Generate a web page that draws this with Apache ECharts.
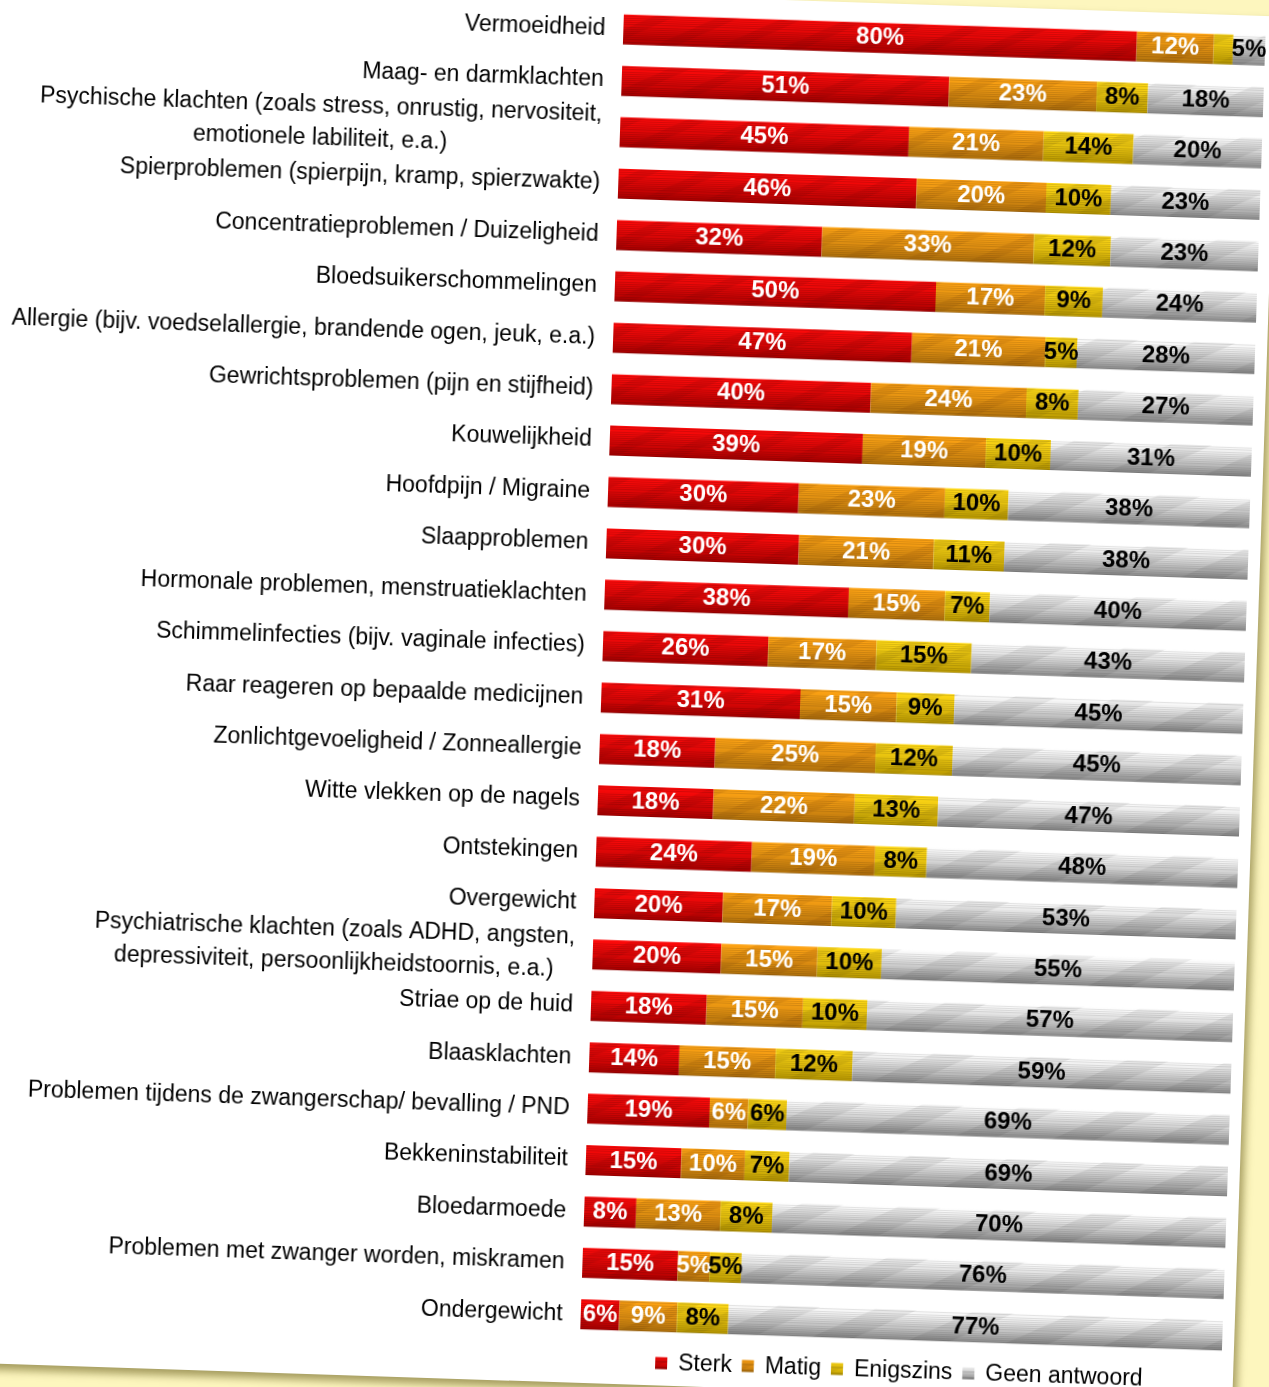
<!DOCTYPE html>
<html>
<head>
<meta charset="utf-8">
<script src="https://cdn.jsdelivr.net/npm/echarts@6/dist/echarts.min.js"></script>
<style>
html, body { margin: 0; padding: 0; width: 1269px; height: 1387px; overflow: hidden; background: #fdf6be; }
#paper {
  position: absolute; left: -50px; top: -26.5px; width: 1328px; height: 1389px;
  background: #ffffff;
  transform-origin: 50px 26.5px; transform: rotate(1.9deg);
  box-shadow: 4px 6px 9px rgba(105, 95, 30, 0.6);
}
#chart { position: absolute; left: 0; top: 0; width: 1328px; height: 1389px; }
</style>
</head>
<body>
<div id="paper"><div id="chart"></div></div>
<script>
const categories = [
  'Vermoeidheid',
  'Maag- en darmklachten',
  'Psychische klachten (zoals stress, onrustig, nervositeit,\nemotionele labiliteit, e.a.)',
  'Spierproblemen (spierpijn, kramp, spierzwakte)',
  'Concentratieproblemen / Duizeligheid',
  'Bloedsuikerschommelingen',
  'Allergie (bijv. voedselallergie, brandende ogen, jeuk, e.a.)',
  'Gewrichtsproblemen (pijn en stijfheid)',
  'Kouwelijkheid',
  'Hoofdpijn / Migraine',
  'Slaapproblemen',
  'Hormonale problemen, menstruatieklachten',
  'Schimmelinfecties (bijv. vaginale infecties)',
  'Raar reageren op bepaalde medicijnen',
  'Zonlichtgevoeligheid / Zonneallergie',
  'Witte vlekken op de nagels',
  'Ontstekingen',
  'Overgewicht',
  'Psychiatrische klachten (zoals ADHD, angsten,\ndepressiviteit, persoonlijkheidstoornis, e.a.)',
  'Striae op de huid',
  'Blaasklachten',
  'Problemen tijdens de zwangerschap/ bevalling / PND',
  'Bekkeninstabiliteit',
  'Bloedarmoede',
  'Problemen met zwanger worden, miskramen',
  'Ondergewicht'
];
const seriesNames = ['Sterk', 'Matig', 'Enigszins', 'Geen antwoord'];
const sterk     = [80, 51, 45, 46, 32, 50, 47, 40, 39, 30, 30, 38, 26, 31, 18, 18, 24, 20, 20, 18, 14, 19, 15, 8, 15, 6];
const matig     = [12, 23, 21, 20, 33, 17, 21, 24, 19, 23, 21, 15, 17, 15, 25, 22, 19, 17, 15, 15, 15, 6, 10, 13, 5, 9];
const enigszins = [3, 8, 14, 10, 12, 9, 5, 8, 10, 10, 11, 7, 15, 9, 12, 13, 8, 10, 10, 10, 12, 6, 7, 8, 5, 8];
const geen      = [5, 18, 20, 23, 23, 24, 28, 27, 31, 38, 38, 40, 43, 45, 45, 47, 48, 53, 55, 57, 59, 69, 69, 70, 76, 77];

const FONT = '"Liberation Sans", Arial, sans-serif';
const rows = [sterk, matig, enigszins, geen];
const sums = categories.map((_, i) => rows.reduce((s, r) => s + r[i], 0));

function hex(c) { return [parseInt(c.slice(1,3),16), parseInt(c.slice(3,5),16), parseInt(c.slice(5,7),16)]; }
function mix(a, b, t) { const A = hex(a), B = hex(b); return A.map((v, k) => Math.round(v + (B[k] - v) * t)); }
function rgb(c, f) { return 'rgb(' + c.map(v => Math.max(0, Math.min(255, Math.round(v * f)))).join(',') + ')'; }
function stripes(top, bottom, n, dark) {
  const stops = [];
  for (let k = 0; k < n; k++) {
    const t = (k + 0.5) / n;
    const c = mix(top, bottom, t * t * 0.4 + t * 0.6);
    stops.push({ offset: k / n, color: rgb(c, 1) });
    stops.push({ offset: (k + 0.55) / n, color: rgb(c, 1) });
    stops.push({ offset: (k + 0.55) / n, color: rgb(c, dark) });
    stops.push({ offset: (k + 1) / n, color: rgb(c, dark) });
  }
  return new echarts.graphic.LinearGradient(0, 0, 0, 1, stops);
}
const fills = [
  stripes('#ff0a0a', '#a80000', 14, 0.86),
  stripes('#ffa414', '#b0700c', 14, 0.88),
  stripes('#ffd816', '#b89800', 14, 0.88),
  stripes('#ffffff', '#8a8a8a', 14, 0.9)
];
const decals = [
  { symbol: 'rect', symbolSize: 1, color: 'rgba(110,0,0,0.14)', dashArrayX: [1, 0], dashArrayY: [9, 18], rotation: -Math.PI / 7 },
  { symbol: 'rect', symbolSize: 1, color: 'rgba(100,50,0,0.11)', dashArrayX: [1, 0], dashArrayY: [9, 18], rotation: -Math.PI / 7 },
  { symbol: 'rect', symbolSize: 1, color: 'rgba(90,70,0,0.11)', dashArrayX: [1, 0], dashArrayY: [9, 18], rotation: -Math.PI / 7 },
  { symbol: 'rect', symbolSize: 1, color: 'rgba(0,0,0,0.07)', dashArrayX: [1, 0], dashArrayY: [18, 24], rotation: -Math.PI / 7 }
];
const labelColors = ['#ffffff', '#ffffff', '#000000', '#000000'];

// measure text to centre the lines of multi-line labels inside a right-aligned block
const ctx = document.createElement('canvas').getContext('2d');
ctx.font = '23px ' + FONT;
const rich = {};
const labelText = categories.map((c, i) => {
  if (c.indexOf('\n') < 0) return c;
  const lines = c.split('\n');
  const w = Math.ceil(Math.max(...lines.map(l => ctx.measureText(l).width)));
  rich['m' + i] = { width: w, align: 'center', fontSize: 23, fontFamily: FONT, color: '#000', lineHeight: 33 };
  return lines.map(l => '{m' + i + '|' + l + '}').join('\n');
});

const chart = echarts.init(document.getElementById('chart'), null, { renderer: 'canvas' });
chart.setOption({
  animation: false,
  aria: { enabled: true, decal: { show: true } },
  grid: { left: 674, top: 9, width: 642, height: 1337, containLabel: false },
  xAxis: { type: 'value', min: 0, max: 100, show: false },
  yAxis: {
    type: 'category', inverse: true, data: categories,
    axisLine: { show: false }, axisTick: { show: false }, splitLine: { show: false },
    axisLabel: {
      margin: 18, fontSize: 23, fontFamily: FONT, color: '#000',
      formatter: (v, i) => labelText[i], rich: rich
    }
  },
  legend: {
    left: 745, top: 1350, itemWidth: 12, itemHeight: 12, itemGap: 10,
    icon: 'rect',
    textStyle: { fontSize: 23, fontFamily: FONT, color: '#000', padding: [0, 0, 0, 6] },
    data: seriesNames
  },
  series: seriesNames.map((name, s) => ({
    name: name, type: 'bar', stack: 'total', barWidth: 30,
    itemStyle: { color: fills[s], decal: decals[s] },
    label: {
      show: true, position: 'inside', fontSize: 24, fontWeight: 'bold', fontFamily: FONT,
      color: labelColors[s],
      formatter: p => (p.data.raw > 3 ? p.data.raw + '%' : '')
    },
    data: rows[s].map((v, i) => ({ value: v / sums[i] * 100, raw: v }))
  }))
});
</script>
</body>
</html>
